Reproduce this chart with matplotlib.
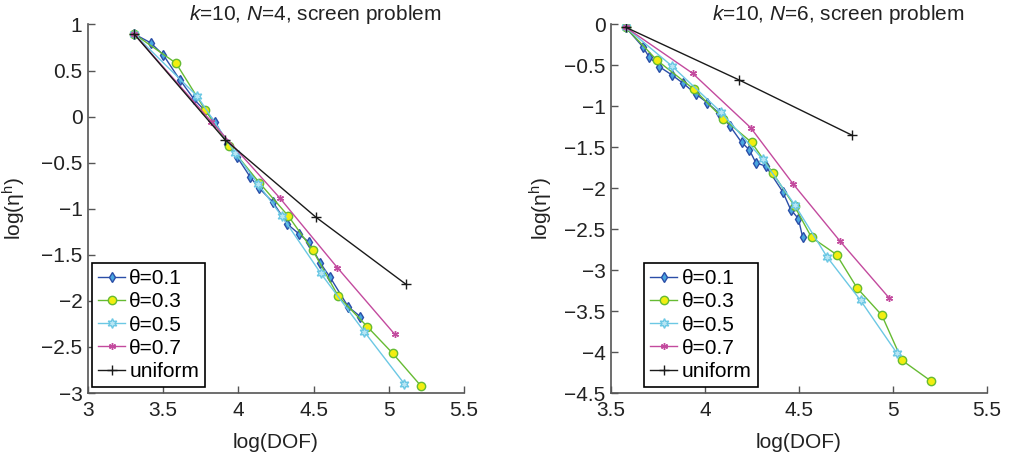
import numpy as np
import matplotlib
matplotlib.use("Agg")
import matplotlib.pyplot as plt

plt.rcParams['font.family'] = ['Liberation Sans', 'DejaVu Sans']
plt.rcParams['mathtext.fontset'] = 'custom'
plt.rcParams['mathtext.rm'] = 'Liberation Sans'
plt.rcParams['mathtext.it'] = 'Liberation Sans:italic'

# ---- left panel: k=10, N=4 ----
l_t1_x = [3.306, 3.417, 3.50, 3.61, 3.705, 3.845, 3.926, 3.99, 4.08, 4.14, 4.23, 4.325, 4.40, 4.47, 4.543, 4.61, 4.73, 4.81]
l_t1_y = [0.897, 0.80, 0.67, 0.40, 0.188, -0.055, -0.30, -0.435, -0.66, -0.78, -0.93, -1.166, -1.27, -1.365, -1.586, -1.745, -2.064, -2.17]
l_t3_x = [3.306, 3.585, 3.78, 3.94, 4.14, 4.332, 4.494, 4.664, 4.857, 5.026, 5.212]
l_t3_y = [0.897, 0.58, 0.07, -0.32, -0.72, -1.08, -1.45, -1.95, -2.28, -2.57, -2.92]
l_t5_x = [3.306, 3.727, 3.977, 4.13, 4.288, 4.547, 4.837, 5.103]
l_t5_y = [0.897, 0.22, -0.39, -0.73, -1.08, -1.70, -2.335, -2.90]
l_t7_x = [3.306, 3.82, 4.277, 4.658, 5.04]
l_t7_y = [0.897, -0.055, -0.887, -1.64, -2.364]
l_uni_x = [3.306, 3.91, 4.516, 5.114]
l_uni_y = [0.897, -0.25, -1.093, -1.82]

# ---- right panel: k=10, N=6 ----
r_t1_x = [3.578, 3.668, 3.704, 3.757, 3.824, 3.885, 3.952, 4.012, 4.076, 4.133, 4.195, 4.236, 4.271, 4.324, 4.413, 4.456, 4.497, 4.52]
r_t1_y = [-0.034, -0.27, -0.40, -0.515, -0.617, -0.72, -0.85, -0.955, -1.085, -1.24, -1.44, -1.53, -1.69, -1.73, -2.04, -2.26, -2.37, -2.60]
r_t3_x = [3.578, 3.746, 3.941, 4.097, 4.248, 4.36, 4.477, 4.567, 4.70, 4.81, 4.941, 5.048, 5.20]
r_t3_y = [-0.034, -0.44, -0.79, -1.15, -1.44, -1.81, -2.22, -2.60, -2.81, -3.22, -3.55, -4.10, -4.35]
r_t5_x = [3.578, 3.824, 4.083, 4.307, 4.477, 4.65, 4.828, 5.02]
r_t5_y = [-0.034, -0.507, -1.065, -1.646, -2.20, -2.84, -3.37, -4.01]
r_t7_x = [3.578, 3.934, 4.243, 4.47, 4.72, 4.98]
r_t7_y = [-0.034, -0.596, -1.26, -1.95, -2.65, -3.34]
r_uni_x = [3.578, 4.182, 4.78]
r_uni_y = [-0.034, -0.678, -1.35]

labels = ['θ=0.1', 'θ=0.3', 'θ=0.5', 'θ=0.7', 'uniform']

styles = [
    dict(color='#2b4ea8', marker='d', mfc='#49a6e0', mec='#2b4ea8', ms=5.5),
    dict(color='#66bb33', marker='o', mfc='#f2ee10', mec='#66bb33', ms=6),
    dict(color='#6cc8e4', marker=(6, 1, 0), mfc='#b8e6f4', mec='#6cc8e4', ms=7),
    dict(color='#c34a9e', marker=(6, 2, 0), mfc='#c34a9e', mec='#c34a9e', ms=5),
    dict(color='#1a1a1a', marker='+', mfc='#1a1a1a', mec='#1a1a1a', ms=7),
]

FS = 15

fig = plt.figure(figsize=(10.12, 4.61), dpi=100)
ax1 = fig.add_axes([0.087, 0.1475, 0.3715, 0.7995])
ax2 = fig.add_axes([0.6037, 0.1475, 0.3715, 0.7995])

panels = [
    (ax1, [(l_t1_x, l_t1_y), (l_t3_x, l_t3_y), (l_t5_x, l_t5_y), (l_t7_x, l_t7_y), (l_uni_x, l_uni_y)],
     (3, 5.5), (-3, 1), np.arange(3, 5.51, 0.5), np.arange(-3, 1.01, 0.5),
     '$k$=10, $N$=4, screen problem', 0.01, -0.16),
    (ax2, [(r_t1_x, r_t1_y), (r_t3_x, r_t3_y), (r_t5_x, r_t5_y), (r_t7_x, r_t7_y), (r_uni_x, r_uni_y)],
     (3.5, 5.5), (-4.5, 0), np.arange(3.5, 5.51, 0.5), np.arange(-4.5, 0.01, 0.5),
     '$k$=10, $N$=6, screen problem', 0.088, -0.15),
]

def fmt(v):
    s = '%g' % v
    return s.replace('-', '\u2212')

for ax, series, xl, yl, xt, yt, title, legx, ylx in panels:
    for (xs, ys), st, lab in zip(series, styles, labels):
        ax.plot(xs, ys, lw=1.0, label=lab, **st)
    ax.set_xlim(*xl)
    ax.set_ylim(*yl)
    ax.set_xticks(xt)
    ax.set_yticks(yt)
    ax.set_xticklabels([fmt(v) for v in xt])
    ax.set_yticklabels([fmt(v) for v in yt])
    ax.spines['top'].set_visible(False)
    ax.spines['right'].set_visible(False)
    for s in ['left', 'bottom']:
        ax.spines[s].set_color('#555555')
        ax.spines[s].set_linewidth(1.2)
    ax.tick_params(direction='in', length=5, width=1, colors='#555555',
                   labelcolor='#222222', labelsize=FS)
    ax.tick_params(axis='x', pad=6)
    ax.tick_params(axis='y', pad=4)
    ax.set_xlabel('log(DOF)', fontsize=FS, color='#222222')
    ax.xaxis.set_label_coords(0.5, -0.108)
    ax.set_ylabel('log(η$^\\mathrm{h}$)', fontsize=FS, color='#222222')
    ax.yaxis.set_label_coords(ylx, 0.5)
    ax.text(0.604, 1.026, title, transform=ax.transAxes, ha='center', va='center',
            fontsize=FS, color='#222222')
    leg = ax.legend(loc='lower left', bbox_to_anchor=(legx, 0.016), fontsize=FS,
                    handlelength=1.3, handletextpad=0.2, labelspacing=0.2,
                    borderpad=0.3, borderaxespad=0, fancybox=False, framealpha=1)
    leg.get_frame().set_edgecolor('black')
    leg.get_frame().set_linewidth(1.2)

fig.savefig('out.png', dpi=100)
